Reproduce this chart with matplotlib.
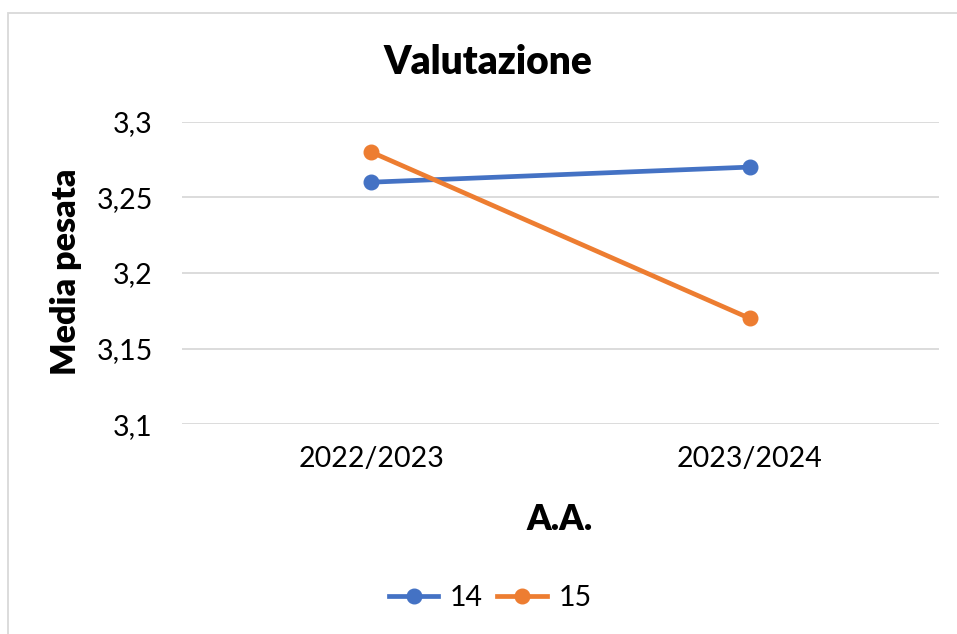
import matplotlib.pyplot as plt
from matplotlib.patches import Rectangle

plt.rcParams['font.family'] = ['Lato', 'DejaVu Sans']

anni = ["2022/2023", "2023/2024"]
serie_14 = [3.26, 3.27]
serie_15 = [3.28, 3.17]
yticks = [3.1, 3.15, 3.2, 3.25, 3.3]
ytick_labels = ["3,1", "3,15", "3,2", "3,25", "3,3"]

fig = plt.figure(figsize=(9.57, 6.34), dpi=100)
ax = fig.add_axes([0.190, 0.331, 0.791, 0.477])

x = [0, 1]
ax.plot(x, serie_14, color="#4472C4", lw=3.4, marker="o", ms=10.5, label="14")
ax.plot(x, serie_15, color="#ED7D31", lw=3.4, marker="o", ms=10.5, label="15")

ax.set_xlim(-0.5, 1.5)
ax.set_ylim(3.1, 3.3)
ax.set_xticks(x)
ax.set_xticklabels(anni)
ax.set_yticks(yticks)
ax.set_yticklabels(ytick_labels)
ax.tick_params(length=0, labelsize=20.5, pad=16)
ax.tick_params(axis="y", pad=21)
ax.grid(axis="y", color="#D9D9D9", lw=1.3)
ax.set_axisbelow(True)
for s in ax.spines.values():
    s.set_visible(False)

fig.text(0.51, 0.902, "Valutazione", ha="center", va="center", fontsize=28, fontweight="heavy")
fig.text(0.069, 0.571, "Media pesata", ha="center", va="center", rotation=90, fontsize=24.5, fontweight="heavy")
fig.text(0.585, 0.18, "A.A.", ha="center", va="center", fontsize=25, fontweight="heavy")

fig.legend(loc="center", bbox_to_anchor=(0.512, 0.057), ncol=2, frameon=False,
           fontsize=20.5, handlelength=1.75, handletextpad=0.4, columnspacing=0.5)

fig.patches.append(Rectangle((8 / 957, -0.1), 1.2, 1 - 13 / 634 + 0.1, transform=fig.transFigure,
                             fill=False, edgecolor="#D9D9D9", lw=1.3))

fig.savefig("out.png", dpi=100)
